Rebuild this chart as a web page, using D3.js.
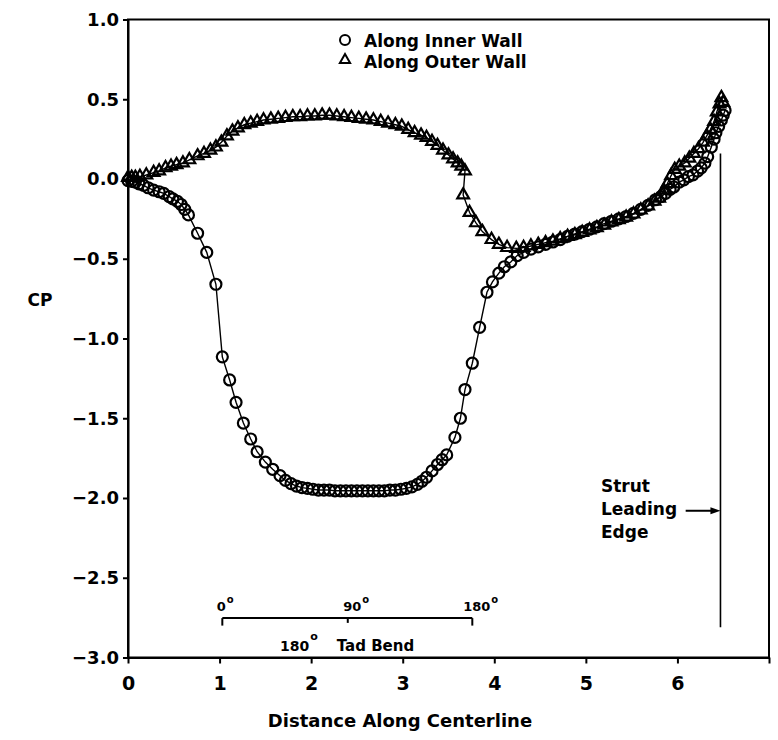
<!DOCTYPE html>
<html>
<head>
<meta charset="utf-8">
<script src="https://cdn.jsdelivr.net/npm/d3@7"></script>
<style>
  html, body { margin: 0; padding: 0; background: #fff; }
  svg { display: block; }
  text { font-family: "DejaVu Sans", "Liberation Sans", Arial, sans-serif; font-weight: bold; fill: #000; }
</style>
</head>
<body>
<svg id="chart" width="778" height="740"></svg>
<script>
// ---------- data ----------
const xTicks = [0, 1, 2, 3, 4, 5, 6, 7];
const xTickLabels = ["0", "1", "2", "3", "4", "5", "6", ""];
const yTicks = [1.0, 0.5, 0.0, -0.5, -1.0, -1.5, -2.0, -2.5, -3.0];
const yTickLabels = ["1.0", "0.5", "0.0", "\u22120.5", "\u22121.0", "\u22121.5", "\u22122.0", "\u22122.5", "\u22123.0"];

const seriesNames = ["Along Inner Wall", "Along Outer Wall"];

const innerX = [0.00,0.04,0.08,0.12,0.17,0.22,0.28,0.34,0.39,0.45,0.49,0.54,0.58,0.62,0.66,0.76,0.86,0.96,
  1.03,1.11,1.18,1.26,1.34,1.41,1.50,1.58,1.66,1.72,1.78,1.84,1.90,1.96,2.02,2.08,2.14,2.20,2.26,2.32,2.38,
  2.44,2.50,2.56,2.62,2.68,2.74,2.80,2.86,2.92,2.98,3.04,3.10,3.16,3.21,3.26,3.32,3.38,3.43,3.48,3.57,3.63,
  3.68,3.76,3.84,3.92,3.98,4.05,4.11,4.18,4.25,4.32,4.40,4.48,4.56,4.64,4.72,4.80,4.88,4.96,5.04,5.12,5.20,
  5.28,5.36,5.44,5.52,5.60,5.68,5.76,5.82,5.87,5.92,5.96,6.02,6.07,6.12,6.17,6.22,6.26,6.30,6.33,6.37,6.40,
  6.42,6.45,6.48,6.50,6.52];
const innerCP = [-0.01,-0.015,-0.02,-0.03,-0.04,-0.055,-0.07,-0.08,-0.09,-0.11,-0.125,-0.14,-0.16,-0.19,-0.225,-0.34,-0.46,-0.66,
  -1.115,-1.26,-1.40,-1.53,-1.63,-1.71,-1.775,-1.82,-1.86,-1.89,-1.91,-1.925,-1.935,-1.94,-1.945,-1.95,-1.95,-1.95,-1.955,-1.955,-1.955,
  -1.955,-1.955,-1.955,-1.955,-1.955,-1.955,-1.955,-1.95,-1.95,-1.945,-1.94,-1.93,-1.915,-1.895,-1.87,-1.83,-1.79,-1.76,-1.73,-1.62,-1.50,
  -1.32,-1.155,-0.93,-0.71,-0.645,-0.59,-0.55,-0.52,-0.48,-0.46,-0.44,-0.425,-0.41,-0.395,-0.38,-0.36,-0.345,-0.33,-0.315,-0.30,-0.28,
  -0.265,-0.25,-0.235,-0.215,-0.19,-0.165,-0.13,-0.11,-0.09,-0.065,-0.05,-0.02,-0.005,0.015,0.026,0.05,0.07,0.10,0.14,0.20,0.25,
  0.29,0.33,0.37,0.40,0.43];

const outerX = [0.00,0.04,0.08,0.13,0.20,0.28,0.34,0.41,0.47,0.53,0.60,0.67,0.76,0.83,0.90,0.96,1.02,1.08,1.14,
  1.20,1.27,1.34,1.41,1.48,1.56,1.64,1.72,1.80,1.88,1.96,2.04,2.12,2.20,2.28,2.36,2.44,2.52,2.60,2.68,2.76,
  2.84,2.92,2.99,3.06,3.13,3.20,3.26,3.32,3.38,3.44,3.50,3.55,3.60,3.64,3.68,3.66,3.73,3.80,3.87,3.97,4.05,
  4.14,4.24,4.32,4.40,4.48,4.56,4.64,4.72,4.80,4.88,4.96,5.04,5.12,5.20,5.28,5.36,5.44,5.52,5.60,5.68,5.75,
  5.80,5.85,5.89,5.93,5.97,6.02,6.08,6.13,6.18,6.23,6.28,6.32,6.36,6.40,6.43,6.46,6.48,6.50];
const outerCP = [0.01,0.01,0.01,0.015,0.025,0.04,0.05,0.07,0.08,0.09,0.10,0.12,0.145,0.16,0.18,0.20,0.23,0.27,0.30,
  0.32,0.34,0.35,0.36,0.37,0.375,0.38,0.385,0.39,0.39,0.395,0.395,0.40,0.40,0.395,0.39,0.385,0.38,0.375,0.37,0.36,
  0.35,0.34,0.33,0.31,0.29,0.275,0.26,0.235,0.21,0.18,0.15,0.125,0.10,0.08,0.05,-0.10,-0.21,-0.275,-0.33,-0.38,-0.41,
  -0.43,-0.435,-0.43,-0.42,-0.41,-0.40,-0.39,-0.375,-0.36,-0.35,-0.335,-0.32,-0.305,-0.29,-0.27,-0.255,-0.24,-0.22,-0.195,-0.17,-0.14,
  -0.12,-0.07,-0.03,0.02,0.06,0.08,0.10,0.13,0.16,0.19,0.23,0.27,0.31,0.36,0.42,0.47,0.51,0.48];

// annotations (data units)
const bendX = [1.03, 2.40, 3.76];
const bendLabels = ["0", "90", "180"];
const bendLabelX = [0.97, 2.35, 3.66];
const bendY = -2.753;
const bendTickY = -2.80;
const bendTitleX = [1.66, 2.28];
const bendTitle = ["180", "Tad Bend"];
const strutX = 6.47;
const strutY = [0.16, -2.81];
const strutArrowY = -2.08;
const strutArrowFromX = 6.09;
const strutLines = ["Strut", "Leading", "Edge"];

// ---------- layout ----------
const svg = d3.select("#chart");
const x = d3.scaleLinear().domain([0, 7]).range([128, 769]);
const y = d3.scaleLinear().domain([-3, 1]).range([657.5, 19.5]);
const FONT = "DejaVu Sans, Liberation Sans, Arial, sans-serif";

// frame
svg.append("rect")
  .attr("x", x(0)).attr("y", y(1))
  .attr("width", x(7) - x(0)).attr("height", y(-3) - y(1))
  .attr("fill", "none").attr("stroke", "#000").attr("stroke-width", 2);

// x axis
const xAxis = svg.append("g")
  .attr("transform", `translate(0,${y(-3)})`)
  .call(d3.axisBottom(x).tickValues(xTicks)
    .tickFormat((d, i) => xTickLabels[i]).tickSize(6).tickPadding(13).tickSizeOuter(0));
xAxis.select(".domain").attr("stroke-width", 2);
xAxis.selectAll(".tick line").attr("stroke-width", 2);
xAxis.selectAll("text").attr("font-size", 19).attr("font-family", FONT).attr("font-weight", "bold");

// y axis
const yAxis = svg.append("g")
  .attr("transform", `translate(${x(0)},0)`)
  .call(d3.axisLeft(y).tickValues(yTicks)
    .tickFormat((d, i) => yTickLabels[i]).tickSize(5).tickPadding(4).tickSizeOuter(0));
yAxis.select(".domain").attr("stroke-width", 2);
yAxis.selectAll(".tick line").attr("stroke-width", 2);
yAxis.selectAll("text").attr("font-size", 18).attr("font-family", FONT).attr("font-weight", "bold");

// axis titles
svg.append("text").attr("x", 400).attr("y", 727).attr("text-anchor", "middle")
  .attr("font-size", 18).text("Distance Along Centerline");
svg.append("text").attr("x", 40).attr("y", 306).attr("text-anchor", "middle")
  .attr("font-size", 17).text("CP");

// series
const innerData = innerX.map((v, i) => [v, innerCP[i]]);
const outerData = outerX.map((v, i) => [v, outerCP[i]]);
const line = d3.line().x(d => x(d[0])).y(d => y(d[1]));

svg.append("path").datum(innerData).attr("d", line)
  .attr("fill", "none").attr("stroke", "#000").attr("stroke-width", 1.4);
svg.append("path").datum(outerData).attr("d", line)
  .attr("fill", "none").attr("stroke", "#000").attr("stroke-width", 1.4);

svg.append("g").selectAll("circle").data(innerData).join("circle")
  .attr("cx", d => x(d[0])).attr("cy", d => y(d[1])).attr("r", 5.5)
  .attr("fill", "none").attr("stroke", "#000").attr("stroke-width", 2.2);

const tri = d3.symbol().type(d3.symbolTriangle).size(60);
svg.append("g").selectAll("path").data(outerData).join("path")
  .attr("d", tri).attr("transform", d => `translate(${x(d[0])},${y(d[1])})`)
  .attr("fill", "none").attr("stroke", "#000").attr("stroke-width", 2.2);

// legend
const lg = svg.append("g");
lg.append("circle").attr("cx", 345).attr("cy", 40).attr("r", 5)
  .attr("fill", "none").attr("stroke", "#000").attr("stroke-width", 2);
lg.append("path").attr("d", d3.symbol().type(d3.symbolTriangle).size(45)())
  .attr("transform", "translate(345,60)")
  .attr("fill", "none").attr("stroke", "#000").attr("stroke-width", 2);
lg.append("text").attr("x", 364).attr("y", 47).attr("font-size", 17).text(seriesNames[0]);
lg.append("text").attr("x", 364).attr("y", 68).attr("font-size", 17).text(seriesNames[1]);

// bend bracket annotation
const bg = svg.append("g");
bg.append("line").attr("x1", x(bendX[0])).attr("x2", x(bendX[2]))
  .attr("y1", y(bendY)).attr("y2", y(bendY)).attr("stroke", "#000").attr("stroke-width", 2);
bendX.forEach((bx, i) => {
  bg.append("line").attr("x1", x(bx)).attr("x2", x(bx))
    .attr("y1", y(bendY)).attr("y2", y(i === 1 ? bendY - 0.03 : bendTickY))
    .attr("stroke", "#000").attr("stroke-width", 2);
  const t = bg.append("text").attr("x", x(bendLabelX[i])).attr("y", y(bendY) - 7).attr("font-size", 13);
  t.append("tspan").text(bendLabels[i]);
  t.append("tspan").attr("dy", -8).attr("dx", 1).attr("font-size", 10).text("o");
});
const bt = bg.append("text").attr("x", x(bendTitleX[0])).attr("y", 651).attr("font-size", 14);
bt.append("tspan").text(bendTitle[0]);
bt.append("tspan").attr("dy", -11).attr("dx", 1).attr("font-size", 11).text("o");
bg.append("text").attr("x", x(bendTitleX[1])).attr("y", 651).attr("font-size", 15).text(bendTitle[1]);

// strut leading edge annotation
const sg = svg.append("g");
sg.append("line").attr("x1", x(strutX)).attr("x2", x(strutX))
  .attr("y1", y(strutY[0])).attr("y2", y(strutY[1])).attr("stroke", "#000").attr("stroke-width", 1.6);
sg.append("line").attr("x1", x(strutArrowFromX)).attr("x2", x(strutX) - 6)
  .attr("y1", y(strutArrowY)).attr("y2", y(strutArrowY)).attr("stroke", "#000").attr("stroke-width", 2);
sg.append("path")
  .attr("d", `M${x(strutX)},${y(strutArrowY)} l-10,-3.5 l0,7 z`).attr("fill", "#000");
strutLines.forEach((s, i) => {
  sg.append("text").attr("x", 601).attr("y", 492 + i * 23).attr("font-size", 17).text(s);
});
</script>
</body>
</html>
